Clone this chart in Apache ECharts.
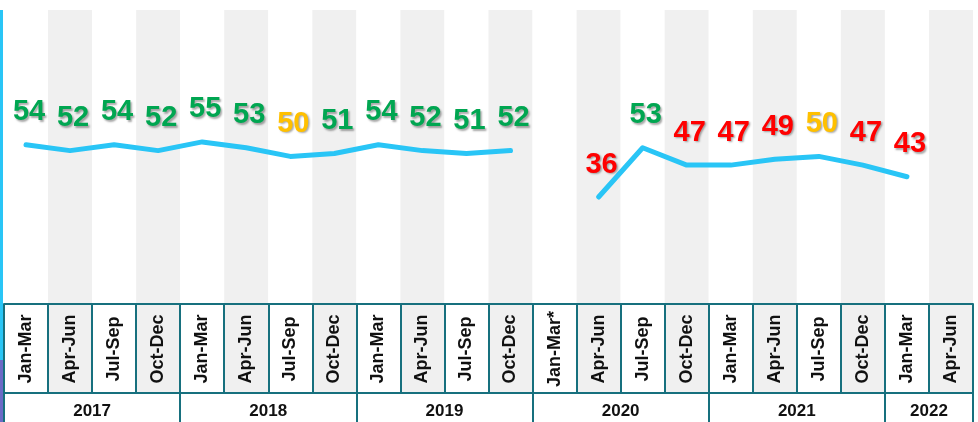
<!DOCTYPE html>
<html>
<head>
<meta charset="utf-8">
<script src="https://cdn.jsdelivr.net/npm/echarts@6/dist/echarts.min.js"></script>
<style>
  html, body { margin: 0; padding: 0; background: #ffffff; }
  #chart { width: 978px; height: 422px; }
</style>
</head>
<body>
<div id="chart"></div>
<script>
// ---- data ----
var categories = [
  'Jan-Mar', 'Apr-Jun', 'Jul-Sep', 'Oct-Dec',
  'Jan-Mar', 'Apr-Jun', 'Jul-Sep', 'Oct-Dec',
  'Jan-Mar', 'Apr-Jun', 'Jul-Sep', 'Oct-Dec',
  'Jan-Mar*', 'Apr-Jun', 'Jul-Sep', 'Oct-Dec',
  'Jan-Mar', 'Apr-Jun', 'Jul-Sep', 'Oct-Dec',
  'Jan-Mar', 'Apr-Jun'
];
var values = [
  54, 52, 54, 52,
  55, 53, 50, 51,
  54, 52, 51, 52,
  null, 36, 53, 47,
  47, 49, 50, 47,
  43, null
];
var years = ['2017', '2018', '2019', '2020', '2021', '2022'];
var yearSpans = [4, 4, 4, 4, 4, 2];

// ---- helpers ----
var GREEN = '#00a651', ORANGE = '#ffc000', RED = '#ff0000';
function labelColor(v) {
  if (v > 50) return GREEN;
  if (v === 50) return ORANGE;
  return RED;
}
var yearBounds = [0];
yearSpans.forEach(function (s) { yearBounds.push(yearBounds[yearBounds.length - 1] + s); });
var yearMids = years.map(function (y, i) { return (yearBounds[i] + yearBounds[i + 1]) / 2; });

var seriesData = values.map(function (v) {
  if (v === null) return null;
  return { value: v, label: { color: labelColor(v) } };
});

var TEAL = '#17707e';
var chart = echarts.init(document.getElementById('chart'), null, { renderer: 'canvas' });
chart.setOption({
  animation: false,
  backgroundColor: '#ffffff',
  grid: { left: 4, right: 5, top: 10, bottom: 29, containLabel: false },
  xAxis: [
    {
      type: 'category',
      data: categories,
      position: 'bottom',
      offset: -89,
      boundaryGap: true,
      axisLine: { show: true, onZero: false, lineStyle: { color: TEAL, width: 2 } },
      axisTick: { show: true, interval: 0, length: 89, lineStyle: { color: TEAL, width: 2 } },
      axisLabel: {
        interval: 0, rotate: 90, margin: 45,
        align: 'center', verticalAlign: 'middle',
        fontFamily: 'Liberation Sans', fontWeight: 'bold', fontSize: 18, color: '#111111'
      },
      splitArea: { show: true, interval: 0, areaStyle: { color: ['#ffffff', '#f0f0f0'] } },
      splitLine: { show: false }
    },
    {
      type: 'value',
      min: 0, max: categories.length,
      position: 'bottom',
      offset: 0,
      axisLine: { show: true, onZero: false, lineStyle: { color: TEAL, width: 2 } },
      axisTick: { show: true, customValues: yearBounds, length: 29, lineStyle: { color: TEAL, width: 2 } },
      axisLabel: {
        customValues: yearMids, margin: 10,
        formatter: function (v) {
          var i = yearMids.indexOf(v);
          return i >= 0 ? years[i] : '';
        },
        fontFamily: 'Liberation Sans', fontWeight: 'bold', fontSize: 17, color: '#111111'
      },
      splitLine: { show: false }
    }
  ],
  yAxis: { type: 'value', min: -31.6, max: 100.5, show: false },
  graphic: [
    { type: 'rect', shape: { x: 0, y: 10, width: 3, height: 350 }, style: { fill: '#29c5f6' }, z: 10 },
    { type: 'rect', shape: { x: 0, y: 360, width: 3, height: 62 }, style: { fill: '#6b6bc6' }, z: 10 }
  ],
  series: [{
    type: 'line',
    xAxisIndex: 0,
    data: seriesData,
    connectNulls: false,
    showSymbol: true,
    showAllSymbol: true,
    symbol: 'circle',
    symbolSize: 2,
    itemStyle: { color: 'rgba(0,0,0,0)', borderWidth: 0 },
    lineStyle: { color: '#29c5f6', width: 5, cap: 'round', join: 'round' },
    label: {
      show: true,
      position: 'top',
      distance: 19,
      offset: [3, 2],
      fontFamily: 'Liberation Sans',
      fontWeight: 'bold',
      fontSize: 29,
      textShadowColor: 'rgba(0,0,0,0.35)',
      textShadowBlur: 2,
      textShadowOffsetX: 1.5,
      textShadowOffsetY: 1.5,
      formatter: function (p) { return String(p.value); }
    }
  }]
});
</script>
</body>
</html>
